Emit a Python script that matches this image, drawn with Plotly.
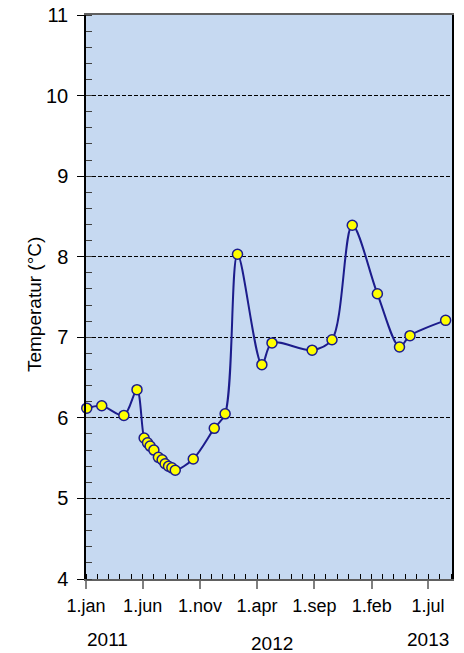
import plotly.graph_objects as go

dates = [
    "2011-01-03", "2011-02-12", "2011-04-12", "2011-05-17", "2011-06-05",
    "2011-06-14", "2011-06-21", "2011-07-01", "2011-07-13", "2011-07-23",
    "2011-07-31", "2011-08-09", "2011-08-18", "2011-08-27", "2011-10-14",
    "2011-12-09", "2012-01-07", "2012-02-09", "2012-04-14", "2012-05-11",
    "2012-08-26", "2012-10-18", "2012-12-11", "2013-02-16", "2013-04-16",
    "2013-05-14", "2013-08-17",
]
temps = [
    6.12, 6.15, 6.03, 6.35, 5.75,
    5.69, 5.65, 5.60, 5.51, 5.48,
    5.43, 5.40, 5.38, 5.35, 5.49,
    5.87, 6.05, 8.03, 6.66, 6.93,
    6.84, 6.97, 8.39, 7.54, 6.88,
    7.02, 7.21,
]
tick_dates = ["2011-01-01", "2011-06-01", "2011-11-01", "2012-04-01",
              "2012-09-01", "2013-02-01", "2013-07-01"]
tick_labels = ["1.jan", "1.jun", "1.nov", "1.apr", "1.sep", "1.feb", "1.jul"]
year_labels = ["2011", "2012", "2013"]
year_pos = [(0.060, -0.108), (0.508, -0.115), (0.934, -0.108)]

fig = go.Figure()
fig.add_trace(go.Scatter(
    x=dates, y=temps, mode="lines+markers",
    line=dict(color="#1c1c8c", width=2, shape="spline", smoothing=0.9),
    marker=dict(size=10, color="#ffff00", line=dict(color="#1c1c8c", width=1.5)),
    showlegend=False, cliponaxis=False,
))

font = "Liberation Sans, Arial, sans-serif"
fig.update_layout(
    width=464, height=653,
    margin=dict(l=86, r=12, t=15, b=74),
    paper_bgcolor="white", plot_bgcolor="#c6d9f1",
    font=dict(family=font, color="black", size=18),
    xaxis=dict(
        type="date", range=["2011-01-01", "2013-09-03"],
        tickmode="array", tickvals=tick_dates, ticktext=tick_labels,
        ticks="outside", ticklen=8, tickcolor="#808080", tickwidth=1.5,
        tickfont=dict(size=18), ticklabelstandoff=2,
        minor=dict(ticks="inside", ticklen=5, tickcolor="black", tickwidth=1,
                   dtick="M1", tick0="2011-01-01", showgrid=False),
        showgrid=False, zeroline=False, automargin=False,
        showline=True, linecolor="#606060", linewidth=1.5, mirror=True,
    ),
    yaxis=dict(
        range=[4, 11], dtick=1, tick0=4,
        ticks="outside", ticklen=7, tickcolor="black", tickwidth=1,
        tickfont=dict(size=20), ticklabelstandoff=5,
        minor=dict(ticks="inside", ticklen=6, tickcolor="#404040", dtick=0.2,
                   tick0=4, showgrid=False),
        showgrid=True, gridcolor="black", gridwidth=1.2, griddash="4px,2px",
        zeroline=False, automargin=False,
        showline=True, linecolor="black", linewidth=1.5, mirror=True,
    ),
)

fig.add_annotation(text="Temperatur (°C)", xref="paper", yref="paper",
                   x=-0.139, y=0.486, textangle=-90, showarrow=False,
                   font=dict(size=19), xanchor="center", yanchor="middle")
for lab, (px, py) in zip(year_labels, year_pos):
    fig.add_annotation(text=lab, xref="paper", yref="paper", x=px, y=py,
                       showarrow=False, font=dict(size=19),
                       xanchor="center", yanchor="middle")

fig.write_html("out.html")
